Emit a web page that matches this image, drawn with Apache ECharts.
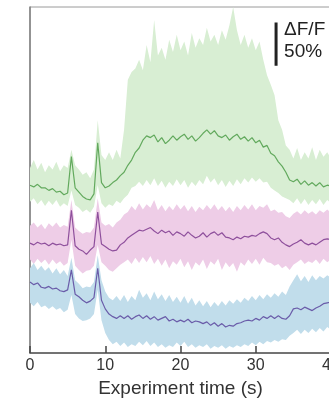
<!DOCTYPE html>
<html>
<head>
<meta charset="utf-8">
<script src="https://cdn.jsdelivr.net/npm/echarts@6/dist/echarts.min.js"></script>
<style>
  html, body { margin: 0; padding: 0; overflow: hidden; background: #fff; }
  #chart { width: 345px; height: 405px; }
</style>
</head>
<body>
<div id="chart"></div>
<script>
// time (s)
var times = [0,0.5,1,1.5,2,2.5,3,3.5,4,4.5,5,5.5,6,6.5,7,7.5,8,8.5,9,9.5,
  10,10.5,11,11.5,12,12.5,13,13.5,14,14.5,15,15.5,16,16.5,17,17.5,18,18.5,19,19.5,
  20,20.5,21,21.5,22,22.5,23,23.5,24,24.5,25,25.5,26,26.5,27,27.5,28,28.5,29,29.5,
  30,30.5,31,31.5,32,32.5,33,33.5,34,34.5,35,35.5,36,36.5,37,37.5,38,38.5,39,39.5,40];

// dF/F (%), traces offset
var greenMean = [194,192,195,191,191,188,190,186,187,183, 185,227,191,186,181,178,177,184,243,197,
  191,193,197,200,205,209,217,223,232,237, 246,251,249,252,244,249,242,246,251,246,
  250,253,247,251,245,249,254,258,253,257, 251,249,252,246,250,253,247,250,245,249,
  243,246,238,240,231,228,221,216,209,200, 198,201,195,199,194,197,193,197,192,194, 193];
var greenUpper = [214,223,212,220,209,217,212,221,210,217, 214,235,217,212,206,209,202,212,269,229,
  223,232,223,235,225,258,316,325,329,339, 327,356,336,385,344,353,339,362,348,368,
  350,360,344,370,353,364,356,376,360,368, 356,373,362,379,400,373,356,368,353,364,
  350,360,339,321,310,298,269,258,240,235, 225,237,223,232,225,238,223,235,227,232, 225];
var greenLower = [175,179,172,177,170,176,171,177,169,173, 170,188,171,168,163,166,162,169,194,173,
  168,172,170,176,173,179,183,191,193,198, 193,200,194,202,193,199,191,198,193,201,
  194,200,191,198,193,200,195,205,197,202, 194,200,192,199,193,201,195,202,197,203,
  198,202,197,198,191,188,185,181,179,177, 173,179,172,178,171,177,172,178,171,177, 173];

var purpleMean = [127,125,128,126,127,124,127,125,126,124, 125,165,124,120,118,114,119,123,163,126,
  123,120,118,119,125,128,133,136,139,142, 141,143,145,141,138,142,139,141,136,140,
  138,135,140,136,133,135,139,134,138,140, 136,139,134,133,131,134,132,135,134,136,
  135,138,140,138,133,131,133,128,125,123, 126,128,131,127,125,127,125,128,131,132, 131];
var purpleUpper = [147,151,145,149,143,150,146,151,145,148, 146,177,145,141,138,140,139,145,179,151,
  147,149,145,151,154,160,163,170,165,173, 166,172,168,177,165,171,164,170,165,172,
  166,171,164,170,163,169,165,171,166,172, 165,170,164,169,163,170,165,171,166,172,
  165,170,168,172,164,166,162,163,158,156, 161,164,160,165,161,164,160,165,162,166, 162];
var purpleLower = [108,103,109,104,108,102,108,103,106,101, 104,131,101,96,92,95,96,101,125,105,
  101,96,94,98,102,105,108,103,110,104, 111,105,112,103,109,101,108,98,106,102,
  109,99,106,96,105,101,108,97,106,102, 109,96,105,99,104,94,105,101,108,103,
  109,102,110,105,104,101,103,98,101,96, 102,105,108,103,106,104,108,103,109,105, 108];

var blueMean = [82,79,81,76,75,77,74,75,72,71, 73,96,68,65,61,58,60,64,98,61,
  51,45,42,40,43,40,43,39,42,44, 40,43,39,42,38,40,42,37,39,36,
  38,36,39,35,37,36,34,36,32,35, 31,34,30,32,31,34,35,37,38,37,
  40,38,42,40,43,40,43,40,39,43, 51,52,50,53,51,49,52,54,57,58, 59];
var blueUpper = [98,104,96,101,95,99,92,98,91,96, 89,110,84,80,75,77,76,82,113,84,
  71,64,61,66,60,67,59,66,61,73, 64,69,61,71,62,68,60,67,59,65,
  58,66,57,64,55,61,54,60,53,59, 54,60,55,61,57,62,58,64,60,66,
  61,67,62,68,64,69,65,71,67,77, 84,91,83,89,82,90,84,89,86,90, 87];
var blueLower = [58,54,59,53,55,51,54,50,52,47, 50,67,45,40,37,38,40,45,73,38,
  23,15,10,13,8,12,7,10,8,13, 9,14,8,12,7,10,6,9,7,12,
  8,13,7,10,6,9,7,10,5,8, 6,9,5,8,6,9,7,10,8,12,
  9,13,10,14,12,15,13,16,15,20, 23,27,22,27,23,28,24,29,25,30, 27];

// scale bar: 50% dF/F
var scaleX = 32.7;
var scaleBar = [382, 357, 332];
var scaleText = 'ΔF/F\n50%';

var chart = echarts.init(document.getElementById('chart'));

function pairs(arr) {
  return times.map(function (t, i) { return [t, arr[i]]; });
}

// shaded band between lower and upper, as one polygon
function band(lower, upper, color) {
  return {
    type: 'custom', silent: true,
    data: [[times[0], lower[0]]],
    renderItem: function (params, api) {
      var pts = [];
      for (var i = 0; i < times.length; i++) pts.push(api.coord([times[i], upper[i]]));
      for (var j = times.length - 1; j >= 0; j--) pts.push(api.coord([times[j], lower[j]]));
      return { type: 'polygon', shape: { points: pts }, style: { fill: color } };
    }
  };
}

function meanLine(arr, color) {
  return {
    type: 'line', data: pairs(arr), symbol: 'none', silent: true,
    lineStyle: { color: color, width: 1.2 }
  };
}

var series = [
  band(greenLower, greenUpper, '#d8eed3'),
  band(purpleLower, purpleUpper, '#eecde7'),
  band(blueLower, blueUpper, '#c1ddeb'),
  meanLine(greenMean, '#62a95d'),
  meanLine(purpleMean, '#8e4f9c'),
  meanLine(blueMean, '#6a5ca9'),
  {
    type: 'line', symbol: 'circle', symbolSize: 0, showSymbol: true, silent: true,
    lineStyle: { color: '#222', width: 3, cap: 'butt' },
    data: scaleBar.map(function (v, i) {
      var item = { value: [scaleX, v] };
      if (i === 1) {
        item.label = {
          show: true, position: 'right', distance: 8, offset: [0, -3],
          formatter: scaleText, fontSize: 19, lineHeight: 22,
          color: '#222', fontFamily: 'Liberation Sans, Arial, sans-serif'
        };
      }
      return item;
    })
  }
];

chart.setOption({
  animation: false,
  grid: {
    left: 30, right: 14, top: 7, bottom: 52,
    show: true, borderColor: '#9a9a9a', borderWidth: 1
  },
  xAxis: {
    type: 'value', min: 0, max: 40, interval: 10,
    name: 'Experiment time (s)', nameLocation: 'middle', nameGap: 26,
    nameTextStyle: { fontSize: 19, color: '#333', fontFamily: 'Liberation Sans, Arial, sans-serif' },
    axisLine: { show: true, lineStyle: { color: '#555', width: 1.5 } },
    axisTick: { show: true, inside: true, length: 7, lineStyle: { color: '#444', width: 1.5 } },
    axisLabel: { fontSize: 16, color: '#333', margin: 5, fontFamily: 'Liberation Sans, Arial, sans-serif' },
    splitLine: { show: false }
  },
  yAxis: {
    type: 'value', min: 0, max: 400,
    axisLine: { show: true, lineStyle: { color: '#808080', width: 1.5 } },
    axisTick: { show: false },
    axisLabel: { show: false },
    splitLine: { show: false }
  },
  series: series
});
</script>
</body>
</html>
